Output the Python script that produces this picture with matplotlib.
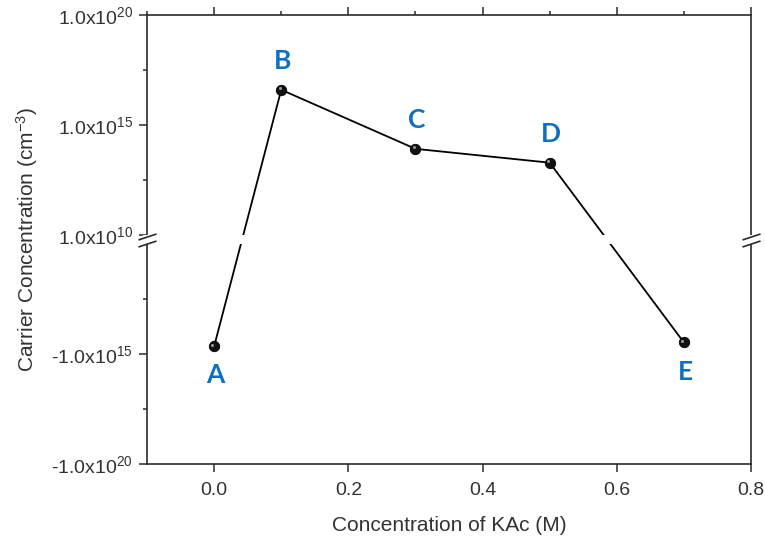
import numpy as np
import matplotlib
matplotlib.use("Agg")
import matplotlib.pyplot as plt
from matplotlib.path import Path
from matplotlib.ticker import FixedLocator, FixedFormatter, MultipleLocator
import matplotlib.transforms as mtransforms

plt.rcParams["font.family"] = ["Liberation Sans", "DejaVu Sans"]
plt.rcParams["mathtext.fontset"] = "custom"
plt.rcParams["mathtext.rm"] = "Liberation Sans"
plt.rcParams["mathtext.it"] = "Liberation Sans:italic"
plt.rcParams["mathtext.bf"] = "Liberation Sans:bold"

# KAc concentration (M) and measured carrier concentration (cm^-3)
kac_conc = [0.0, 0.1, 0.3, 0.5, 0.7]
carrier_conc = [-4.5e14, 4.0e16, 8.3e13, 1.95e13, -3.0e14]
sample_names = ["A", "B", "C", "D", "E"]
label_side = [-1, 1, 1, 1, -1]   # +1 above the point, -1 below

major_yticks = [-1e20, -1e15, 1e10, 1e15, 1e20]
major_ylabels = ["-1.0x10$^{20}$", "-1.0x10$^{15}$", "1.0x10$^{10}$",
                 "1.0x10$^{15}$", "1.0x10$^{20}$"]
minor_yticks = [-10**17.5, -10**12.5, 10**12.5, 10**17.5]
xticks = [0.0, 0.2, 0.4, 0.6, 0.8]

# broken signed-log axis: |v| in [1e10, 1e20] on each side, small gap around zero
LOW_DEC = 10.0
HALF_GAP = 0.2


def fwd(v):
    v = np.asarray(v, dtype=float)
    with np.errstate(divide="ignore", invalid="ignore"):
        m = np.log10(np.maximum(np.abs(v), 1e-300)) - LOW_DEC + HALF_GAP
    return np.where(v >= 0, m, -m)


def inv(y):
    y = np.asarray(y, dtype=float)
    with np.errstate(over="ignore"):
        mag = 10.0 ** (np.abs(y) - HALF_GAP + LOW_DEC)
    return np.where(y >= 0, mag, -mag)


fig = plt.figure(figsize=(7.65, 5.39), dpi=100)
ax = fig.add_axes([0.1922, 0.1391, 0.7895, 0.8331])
ax.set_yscale("function", functions=(fwd, inv))
ax.set_xlim(-0.1, 0.8)
ax.set_ylim(-1e20, 1e20)

axis_col = "#2b2b2b"
text_col = "#333333"

ax.plot(kac_conc, carrier_conc, color="black", lw=1.3, zorder=2,
        marker="o", ms=7.5, mfc="#111111", mec="black", mew=0.6)
# glossy highlight on each sphere
hl = mtransforms.offset_copy(ax.transData, fig=fig, x=-1.2, y=1.2, units="points")
ax.plot(kac_conc, carrier_conc, ls="none", marker="o", ms=2.2,
        mfc="#9a9a9a", mec="none", transform=hl, zorder=4)

# white band that interrupts the line at the axis break
band = ax.axhspan(-1e10, 1e10, xmin=-0.006, xmax=1.006, color="white",
                  lw=0, zorder=3)
band.set_clip_on(False)

# double-slash break marks on both vertical spines
slash = Path([(-1, -0.72), (1, -0.06), (-1, 0.06), (1, 0.72)],
             [Path.MOVETO, Path.LINETO, Path.MOVETO, Path.LINETO])
brk_tr = mtransforms.blended_transform_factory(ax.transAxes, ax.transAxes)
ax.plot([0, 1], [0.5, 0.5], ls="none", marker=slash, ms=13, mew=1.2,
        mec=axis_col, transform=brk_tr, clip_on=False, zorder=5)

for x, y, name, side in zip(kac_conc, carrier_conc, sample_names, label_side):
    ax.annotate(name, (x, y), xytext=(1, 21 * side), textcoords="offset points",
                ha="center", va="center", fontsize=19, fontweight="bold",
                family=["Lato", "DejaVu Sans"], color="#0F6FC1", zorder=6)

# ticks
ax.yaxis.set_major_locator(FixedLocator(major_yticks))
ax.yaxis.set_major_formatter(FixedFormatter(major_ylabels))
ax.yaxis.set_minor_locator(FixedLocator(minor_yticks))
ax.xaxis.set_major_locator(FixedLocator(xticks))
ax.xaxis.set_major_formatter(FixedFormatter([f"{t:.1f}" for t in xticks]))
ax.xaxis.set_minor_locator(MultipleLocator(0.1))

ax.tick_params(axis="y", which="both", direction="out", left=True, right=False,
               color=axis_col, width=1.1, labelsize=14, labelcolor=text_col, pad=4)
ax.tick_params(axis="y", which="major", length=6)
ax.tick_params(axis="y", which="minor", length=3)
ax.tick_params(axis="x", which="major", direction="out", top=True, bottom=True,
               length=6, width=1.1, color=axis_col, labelsize=14,
               labelcolor=text_col, pad=7)
ax.tick_params(axis="x", which="minor", direction="out", top=True, bottom=False,
               length=3, width=1.1, color=axis_col)

for s in ax.spines.values():
    s.set_color(axis_col)
    s.set_linewidth(1.2)

ax.set_xlabel("Concentration of KAc (M)", fontsize=15, color=text_col, labelpad=12)
ax.set_ylabel("Carrier Concentration (cm$^{-3}$)", fontsize=15, color=text_col,
              labelpad=8)

fig.savefig("out.png", dpi=100)
